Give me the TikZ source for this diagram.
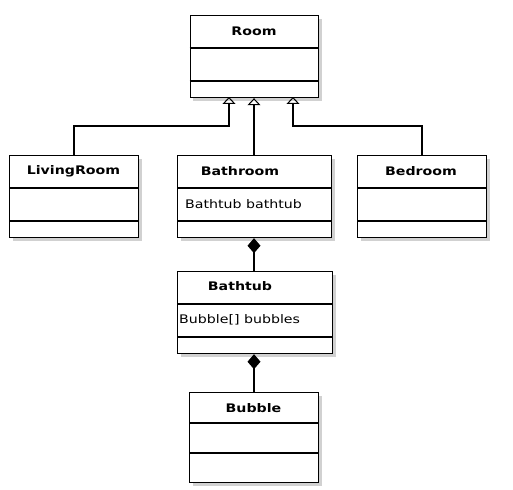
\documentclass[tikz,border=0pt]{standalone}
\usepackage{fontspec}
\usetikzlibrary{arrows.meta,shadows}
\newfontfamily\umlfont[FakeStretch=1.2]{DejaVu Sans}
\tikzset{
  cls/.style={draw=black, line width=1.2pt, fill=white, rectangle, inner sep=0pt, anchor=north west,
    drop shadow={shadow xshift=3pt, shadow yshift=-3pt, fill=black!18, opacity=1}},
  ttl/.style={font=\umlfont\bfseries\fontsize{11.8}{13}\selectfont, inner sep=0pt},
  attr/.style={font=\umlfont\fontsize{11.8}{13}\selectfont, inner sep=0pt, anchor=west},
  divl/.style={line width=1.2pt},
  inh/.style={line width=1.2pt, -{Triangle[open, length=7pt, width=13pt, line width=1pt]}},
  comp/.style={line width=1.2pt, {Diamond[length=15pt, width=13pt]}-},
}
\begin{document}
\begin{tikzpicture}[x=1pt, y=-1pt]
\useasboundingbox (0,0) rectangle (513,489);
% Room
\node[cls, minimum width=128.5pt, minimum height=82pt] (room) at (189.5,15) {};
\draw[divl] (room.west |- 0,48) -- (room.east |- 0,48);
\draw[divl] (room.west |- 0,81) -- (room.east |- 0,81);
\node[ttl] (roomt) at (254,31) {Room};
% LivingRoom
\node[cls, minimum width=129pt, minimum height=82pt] (living) at (9,155) {};
\draw[divl] (living.west |- 0,188) -- (living.east |- 0,188);
\draw[divl] (living.west |- 0,221) -- (living.east |- 0,221);
\node[ttl] (livingt) at (73.5,171) {LivingRoom};
% Bathroom
\node[cls, minimum width=154pt, minimum height=82pt] (bath) at (177,155) {};
\draw[divl] (bath.west |- 0,188) -- (bath.east |- 0,188);
\draw[divl] (bath.west |- 0,221) -- (bath.east |- 0,221);
\node[ttl] (batht) at (240,171) {Bathroom};
\node[attr] (batha) at (185,204) {Bathtub bathtub};
% Bedroom
\node[cls, minimum width=129pt, minimum height=82pt] (bed) at (357,155) {};
\draw[divl] (bed.west |- 0,188) -- (bed.east |- 0,188);
\draw[divl] (bed.west |- 0,221) -- (bed.east |- 0,221);
\node[ttl] (bedt) at (421,171) {Bedroom};
% Bathtub
\node[cls, minimum width=155pt, minimum height=82pt] (tub) at (177,271) {};
\draw[divl] (tub.west |- 0,304) -- (tub.east |- 0,304);
\draw[divl] (tub.west |- 0,337) -- (tub.east |- 0,337);
\node[ttl] (tubt) at (240,286) {Bathtub};
\node[attr] (tuba) at (179,320) {Bubble[] bubbles};
% Bubble
\node[cls, minimum width=129pt, minimum height=90pt] (bub) at (189,392) {};
\draw[divl] (bub.west |- 0,423) -- (bub.east |- 0,423);
\draw[divl] (bub.west |- 0,453) -- (bub.east |- 0,453);
\node[ttl] (bubt) at (253.5,408) {Bubble};
% inheritance
\coordinate (rL) at (229,97);
\coordinate (rR) at (293,97);
\coordinate (jL) at (229,126);
\coordinate (jR) at (293,126);
\draw[inh] (living.north -| 74,0) |- (jL) -- (rL);
\draw[inh] (bath.north -| 254,0) -- (room.south -| 254,0);
\draw[inh] (bed.north -| 422,0) |- (jR) -- (rR);
% composition
\draw[comp] (bath.south -| 254,0) -- (tub.north -| 254,0);
\draw[comp] (tub.south -| 254,0) -- (bub.north -| 254,0);
\end{tikzpicture}
\end{document}
